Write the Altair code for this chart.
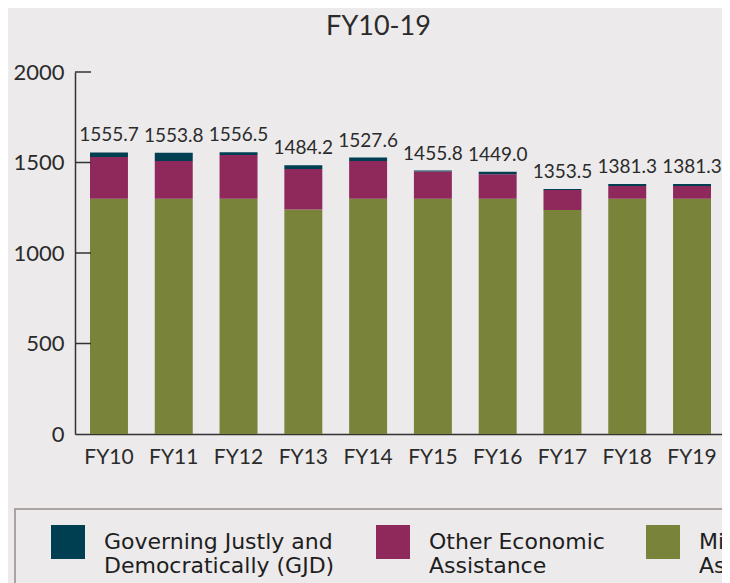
import altair as alt
import pandas as pd

years = ["FY10", "FY11", "FY12", "FY13", "FY14", "FY15", "FY16", "FY17", "FY18", "FY19"]
military = [1300, 1300, 1300, 1240, 1300, 1300, 1300, 1237, 1300, 1300]
other_econ = [230, 208, 241, 224, 208, 150.3, 135, 111.5, 70, 70]
gjd = [25.7, 45.8, 15.5, 20.2, 19.6, 5.5, 14, 5, 11.3, 11.3]

series_names = [
    "Governing Justly and|Democratically (GJD)",
    "Other Economic|Assistance",
    "Military|Assistance",
]
series_colors = ["#003F52", "#8F295C", "#79843A"]
y_ticks = [0, 500, 1000, 1500, 2000]

rows = []
for i, yr in enumerate(years):
    rows.append({"year": yr, "series": series_names[2], "value": military[i], "ord": 0})
    rows.append({"year": yr, "series": series_names[1], "value": other_econ[i], "ord": 1})
    rows.append({"year": yr, "series": series_names[0], "value": gjd[i], "ord": 2})
df = pd.DataFrame(rows)
ticks_df = pd.DataFrame({"v": y_ticks[1:]})

FONT = "Lato"
TXT = "#2b2b2b"

x_scale = alt.Scale(paddingInner=0.414, paddingOuter=0.2315, range=[0, 651])
y_scale = alt.Scale(domain=[0, 2000], nice=False)

bars = alt.Chart(df).mark_bar().encode(
    x=alt.X(
        "year:N",
        sort=years,
        title=None,
        scale=x_scale,
        axis=alt.Axis(
            labelAngle=0, ticks=False, labelPadding=12, labelFontSize=21, labelFont=FONT,
            labelColor=TXT, domainColor="#333333", domainWidth=1.5,
        ),
    ),
    y=alt.Y(
        "value:Q",
        stack="zero",
        scale=y_scale,
        title=None,
        axis=alt.Axis(
            values=y_ticks, format="d", ticks=False, grid=False, labelPadding=11,
            labelFontSize=22, labelFont=FONT, labelColor=TXT, domainColor="#333333",
            domainWidth=1.5,
        ),
    ),
    color=alt.Color(
        "series:N",
        scale=alt.Scale(domain=series_names, range=series_colors),
        legend=alt.Legend(
            orient="none", legendX=-60, legendY=437, direction="horizontal", columns=3,
            title=" ", titleOrient="left", titleFontSize=11, titlePadding=20,
            symbolType="square", symbolSize=1156, symbolStrokeWidth=0,
            symbolOpacity=1, labelFont="DejaVu Sans", labelFontSize=22, labelColor="#1e1e1e",
            labelOffset=19, labelLimit=400, columnPadding=41, padding=16,
            strokeColor="#A9A3A2", gridAlign="none", labelBaseline="middle",
            labelExpr="split(datum.label, '|')",
        ),
    ),
    order=alt.Order("ord:Q", sort="ascending"),
)

labels = alt.Chart(df).transform_aggregate(
    total="sum(value)", groupby=["year"]
).mark_text(
    baseline="alphabetic", dy=-11, fontSize=19, font=FONT, color=TXT
).encode(
    x=alt.X("year:N", sort=years, scale=x_scale),
    y=alt.Y("total:Q", scale=y_scale),
    text=alt.Text("total:Q", format=".1f"),
)

tick_marks = alt.Chart(ticks_df).mark_rule(color="#333333", strokeWidth=1.5).encode(
    x=alt.value(0), x2=alt.value(16), y=alt.Y("v:Q", scale=y_scale)
)

chart = alt.layer(bars, labels, tick_marks).properties(
    width=647,
    height=362,
    autosize=alt.AutoSizeParams(type="none"),
    padding={"left": 67, "top": 64, "right": 0, "bottom": 149},
    title=alt.TitleParams("FY10-19", fontSize=27, font=FONT, color=TXT, fontWeight="normal",
                          anchor="middle", dx=-20, offset=20),
).configure(background="#ECEAEB").configure_view(stroke=None).configure_legend(strokeWidth=2)

chart.save("out.html", embed_options={"renderer": "svg", "actions": False})
